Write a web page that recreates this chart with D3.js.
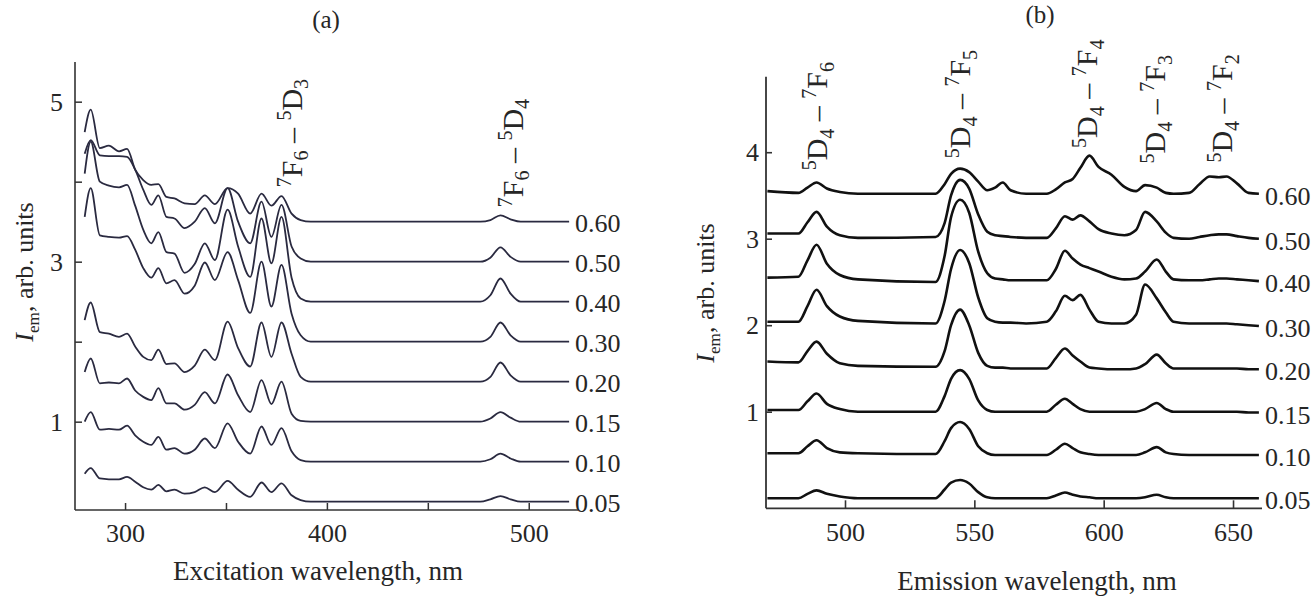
<!DOCTYPE html>
<html><head><meta charset="utf-8">
<script src="https://cdn.jsdelivr.net/npm/d3@7"></script>
<style>
html,body{margin:0;padding:0;background:#fff;}
svg{display:block;}
text{font-family:"Liberation Serif","Times New Roman",serif;fill:#262626;}
</style></head>
<body><svg id="c" width="1316" height="596"></svg>
<script>
// ---------- Panel (a): excitation spectra ----------
const excWl = [280,283,287.5,292,297,301,305,309,313,316.5,320.5,324.5,329.5,334.5,339.5,344.5,350.8,356,362,367.6,372.5,377.5,382.5,387,392,476,481,486,491,496,520];
const excSeriesNames = ["0.60","0.50","0.40","0.30","0.20","0.15","0.10","0.05"];
const exc060 = [4.62,4.90,4.42,4.45,4.38,4.41,4.15,4.02,3.96,3.97,3.81,3.79,3.73,3.72,3.83,3.72,3.92,3.85,3.60,3.85,3.70,3.82,3.60,3.52,3.50,3.50,3.52,3.58,3.53,3.50,3.50];
const exc050 = [4.35,4.52,4.33,4.32,4.32,4.31,4.15,3.90,3.71,3.83,3.56,3.54,3.42,3.50,3.67,3.48,3.92,3.50,3.23,3.75,3.31,3.71,3.19,3.04,3.00,3.00,3.05,3.18,3.06,3.00,3.00];
const exc040 = [4.10,4.50,4.00,3.95,3.93,3.96,3.70,3.40,3.23,3.37,3.12,3.10,2.86,2.97,3.23,3.02,3.65,3.19,2.81,3.54,2.98,3.56,2.80,2.54,2.50,2.50,2.58,2.79,2.60,2.50,2.50];
const exc030 = [3.56,3.92,3.33,3.31,3.30,3.32,3.15,2.92,2.80,2.92,2.73,2.77,2.60,2.70,2.99,2.77,3.12,2.77,2.36,3.00,2.44,2.96,2.35,2.08,2.00,2.00,2.06,2.24,2.08,2.00,2.00];
const exc020 = [2.27,2.49,2.12,2.10,2.06,2.10,1.94,1.81,1.77,1.90,1.72,1.73,1.62,1.70,1.90,1.77,2.25,1.92,1.69,2.24,1.81,2.24,1.85,1.56,1.50,1.50,1.56,1.74,1.58,1.50,1.50];
const exc015 = [1.62,1.79,1.48,1.49,1.48,1.54,1.39,1.31,1.27,1.42,1.23,1.23,1.15,1.21,1.37,1.23,1.59,1.33,1.12,1.52,1.22,1.50,1.10,1.01,1.00,1.00,1.04,1.12,1.05,1.00,1.00];
const exc010 = [1.00,1.12,0.90,0.91,0.90,0.95,0.83,0.75,0.71,0.81,0.65,0.67,0.60,0.65,0.79,0.67,0.98,0.75,0.60,0.94,0.71,0.92,0.63,0.52,0.50,0.50,0.53,0.60,0.54,0.50,0.50];
const exc005 = [0.35,0.42,0.29,0.28,0.28,0.31,0.25,0.18,0.15,0.21,0.13,0.15,0.10,0.12,0.18,0.12,0.26,0.15,0.06,0.24,0.12,0.23,0.08,0.02,0.00,0.00,0.03,0.07,0.03,0.00,0.00];
const excSeries = [exc060,exc050,exc040,exc030,exc020,exc015,exc010,exc005];
const excXTicks = [300,350,400,450,500];
const excXTickLabels = ["300","","400","","500"];
const excYTicks = [1,2,3,4,5];
const excYTickLabels = ["1","","3","","5"];

// ---------- Panel (b): emission spectra ----------
const emWl = [470,482,485.5,489,493,498,505,535,538.5,541,544.5,548,551.5,555,558,561,564,570,578,581.5,585,588,591,594.5,598,603,608,612.5,616,620.5,624,627,633,637,641,644.5,647.5,651.5,656,660];
const emSeriesNames = ["0.60","0.50","0.40","0.30","0.20","0.15","0.10","0.05"];
const em060 = [3.55,3.53,3.59,3.65,3.58,3.54,3.52,3.52,3.63,3.75,3.81,3.77,3.66,3.56,3.59,3.65,3.56,3.52,3.52,3.57,3.65,3.69,3.82,3.96,3.83,3.74,3.60,3.55,3.62,3.59,3.53,3.52,3.53,3.63,3.72,3.71,3.72,3.64,3.53,3.52];
const em050 = [3.06,3.06,3.19,3.31,3.14,3.04,3.01,3.02,3.18,3.50,3.68,3.58,3.28,3.08,3.04,3.03,3.02,3.01,3.01,3.12,3.26,3.22,3.27,3.20,3.11,3.06,3.04,3.10,3.31,3.20,3.07,3.01,3.00,3.02,3.04,3.05,3.05,3.03,3.01,3.00];
const em040 = [2.55,2.56,2.75,2.93,2.71,2.58,2.53,2.50,2.80,3.25,3.45,3.30,2.85,2.60,2.54,2.53,2.52,2.52,2.52,2.65,2.86,2.77,2.70,2.66,2.62,2.56,2.53,2.54,2.62,2.76,2.62,2.53,2.52,2.52,2.53,2.54,2.54,2.53,2.52,2.51];
const em030 = [2.04,2.04,2.22,2.41,2.22,2.10,2.05,2.02,2.28,2.65,2.87,2.72,2.32,2.08,2.04,2.03,2.03,2.02,2.04,2.16,2.34,2.29,2.35,2.18,2.04,2.02,2.02,2.12,2.47,2.31,2.15,2.04,2.02,2.02,2.02,2.02,2.02,2.01,2.00,1.99];
const em020 = [1.58,1.57,1.70,1.81,1.67,1.56,1.53,1.52,1.70,2.00,2.18,2.00,1.68,1.53,1.51,1.51,1.50,1.50,1.50,1.62,1.73,1.65,1.58,1.51,1.50,1.49,1.49,1.50,1.55,1.66,1.56,1.50,1.50,1.50,1.50,1.50,1.50,1.50,1.49,1.49];
const em015 = [1.02,1.02,1.12,1.21,1.09,1.03,1.00,1.00,1.18,1.38,1.48,1.38,1.13,1.02,1.00,1.00,1.00,1.00,1.00,1.08,1.15,1.09,1.03,1.00,1.00,1.00,1.00,1.00,1.03,1.10,1.03,1.00,1.00,1.00,1.00,1.00,1.00,1.00,0.99,0.99];
const em010 = [0.52,0.52,0.60,0.67,0.58,0.53,0.52,0.51,0.66,0.81,0.88,0.80,0.60,0.52,0.50,0.50,0.50,0.50,0.50,0.56,0.63,0.58,0.53,0.51,0.50,0.50,0.50,0.50,0.53,0.59,0.53,0.51,0.50,0.50,0.50,0.50,0.50,0.50,0.50,0.50];
const em005 = [0.00,0.00,0.05,0.09,0.05,0.02,0.00,0.00,0.10,0.18,0.21,0.17,0.07,0.01,0.00,0.00,0.00,0.00,0.00,0.03,0.065,0.04,0.02,0.01,0.00,0.00,0.00,0.00,0.01,0.04,0.01,0.00,0.00,0.00,0.00,0.00,0.00,0.00,0.00,0.00];
const emSeries = [em060,em050,em040,em030,em020,em015,em010,em005];
const emXTicks = [500,550,600,650];
const emYTicks = [1,2,3,4];

// ---------- drawing ----------
const svg = d3.select("#c");
const FS = 26;

function richText(g, parts, size, subSize){
  const t = g.append("text").style("font-size", size+"px");
  let shift = 0;
  const ss = subSize || 0.66*size;
  parts.forEach(p=>{
    let target = 0, fs = size;
    if(p.s==="sup"){target=-0.37*size; fs=ss;}
    if(p.s==="sub"){target=0.22*size; fs=ss;}
    const ts = t.append("tspan").text(p.t).style("font-size", fs+"px").attr("dy", target-shift);
    if(p.i) ts.style("font-style","italic");
    shift = target;
  });
  return t;
}
const yTitleParts = [{t:"I",i:true},{t:"em",s:"sub"},{t:", arb. units"}];

// Panel (a)
const xA = d3.scaleLinear().domain([275.2,514]).range([75,557]);
const yA = d3.scaleLinear().domain([-0.104,5.496]).range([510,62]);
const gA = svg.append("g");
const lineA = d3.line().x((d,i)=>xA(excWl[i])).y(d=>yA(d)).curve(d3.curveMonotoneX);
gA.selectAll("path.s").data(excSeries).join("path").attr("class","s")
  .attr("d", d=>lineA(d)).attr("fill","none").attr("stroke","#2a2a40").attr("stroke-width",1.8);
gA.selectAll("text.lab").data(excSeries).join("text").attr("class","lab")
  .attr("x", xA(excWl[excWl.length-1])+6).attr("y", d=>yA(d[d.length-1])+10)
  .style("font-size",FS+"px").text((d,i)=>excSeriesNames[i]);
// axes
const axAx = d3.axisBottom(xA).tickValues(excXTicks).tickSize(-7).tickFormat((d,i)=>excXTickLabels[i]).tickPadding(14);
const gxA = gA.append("g").attr("transform","translate(0,510)").call(axAx);
const ayA = d3.axisLeft(yA).tickValues(excYTicks).tickSize(-7).tickFormat((d,i)=>excYTickLabels[i]).tickPadding(12);
const gyA = gA.append("g").attr("transform","translate(75,0)").call(ayA);
[gxA,gyA].forEach(g=>{
  g.select(".domain").attr("stroke","#333").attr("stroke-width",1.6);
  g.selectAll(".tick line").attr("stroke","#333").attr("stroke-width",1.5);
  g.selectAll(".tick text").style("font-size",FS+"px").attr("fill","#262626").style("font-family","Liberation Serif, serif");
});
gxA.select(".domain").attr("d","M75,0H578");
gyA.select(".domain").attr("d","M0,62V510");
gA.append("text").attr("x",318).attr("y",580).attr("text-anchor","middle").style("font-size","27px").text("Excitation wavelength, nm");
gA.append("text").attr("x",326).attr("y",28).attr("text-anchor","middle").style("font-size","25px").text("(a)");
richText(gA, yTitleParts, FS).attr("text-anchor","middle").attr("transform","translate(33,272) rotate(-90)");
richText(gA, [{t:"7",s:"sup"},{t:"F"},{t:"6",s:"sub"},{t:" – "},{t:"5",s:"sup"},{t:"D"},{t:"3",s:"sub"}], 30, 20)
  .attr("transform",`translate(${xA(387.5)},${yA(3.93)}) rotate(-90)`);
richText(gA, [{t:"7",s:"sup"},{t:"F"},{t:"6",s:"sub"},{t:" – "},{t:"5",s:"sup"},{t:"D"},{t:"4",s:"sub"}], 30, 20)
  .attr("transform",`translate(${xA(497)},${yA(3.68)}) rotate(-90)`);

// Panel (b)
const xB = d3.scaleLinear().domain([469.46,661.2]).range([766,1262]);
const yB = d3.scaleLinear().domain([-0.117,4.873]).range([508.3,76.7]);
const gB = svg.append("g");
const lineB = d3.line().x((d,i)=>xB(emWl[i])).y(d=>yB(d)).curve(d3.curveMonotoneX);
gB.selectAll("path.s").data(emSeries).join("path").attr("class","s")
  .attr("d", d=>lineB(d)).attr("fill","none").attr("stroke","#111").attr("stroke-width",2.6);
gB.selectAll("text.lab").data(emSeries).join("text").attr("class","lab")
  .attr("x", xB(emWl[emWl.length-1])+6).attr("y", d=>yB(d[d.length-1])+11)
  .style("font-size",FS+"px").text((d,i)=>emSeriesNames[i]);
const axBx = d3.axisBottom(xB).tickValues(emXTicks).tickSize(-8).tickFormat(d3.format("d")).tickPadding(14);
const gxB = gB.append("g").attr("transform","translate(0,508.3)").call(axBx);
const ayB = d3.axisLeft(yB).tickValues(emYTicks).tickSize(-6).tickFormat(d3.format("d")).tickPadding(7);
const gyB = gB.append("g").attr("transform","translate(766,0)").call(ayB);
[gxB,gyB].forEach(g=>{
  g.select(".domain").attr("stroke","#333").attr("stroke-width",1.8);
  g.selectAll(".tick line").attr("stroke","#333").attr("stroke-width",1.6);
  g.selectAll(".tick text").style("font-size",FS+"px").attr("fill","#262626").style("font-family","Liberation Serif, serif");
});
gxB.select(".domain").attr("d","M766,0H1262");
gyB.select(".domain").attr("d","M0,76.7V508.3");
gB.append("text").attr("x",1037).attr("y",590).attr("text-anchor","middle").style("font-size","27px").text("Emission wavelength, nm");
gB.append("text").attr("x",1040).attr("y",23).attr("text-anchor","middle").style("font-size","25px").text("(b)");
richText(gB, yTitleParts, FS).attr("text-anchor","middle").attr("transform","translate(714,293) rotate(-90)");
const emAnn = [
  {wl:493.0, v:3.79, f:"6"},
  {wl:548.3, v:3.93, f:"5"},
  {wl:597.4, v:4.05, f:"4"},
  {wl:623.7, v:3.87, f:"3"},
  {wl:649.6, v:3.88, f:"2"}
];
emAnn.forEach(a=>{
  richText(gB, [{t:"5",s:"sup"},{t:"D"},{t:"4",s:"sub"},{t:" – "},{t:"7",s:"sup"},{t:"F"},{t:a.f,s:"sub"}], 30, 20)
    .attr("transform",`translate(${xB(a.wl)},${yB(a.v)}) rotate(-90)`);
});
</script></body></html>
